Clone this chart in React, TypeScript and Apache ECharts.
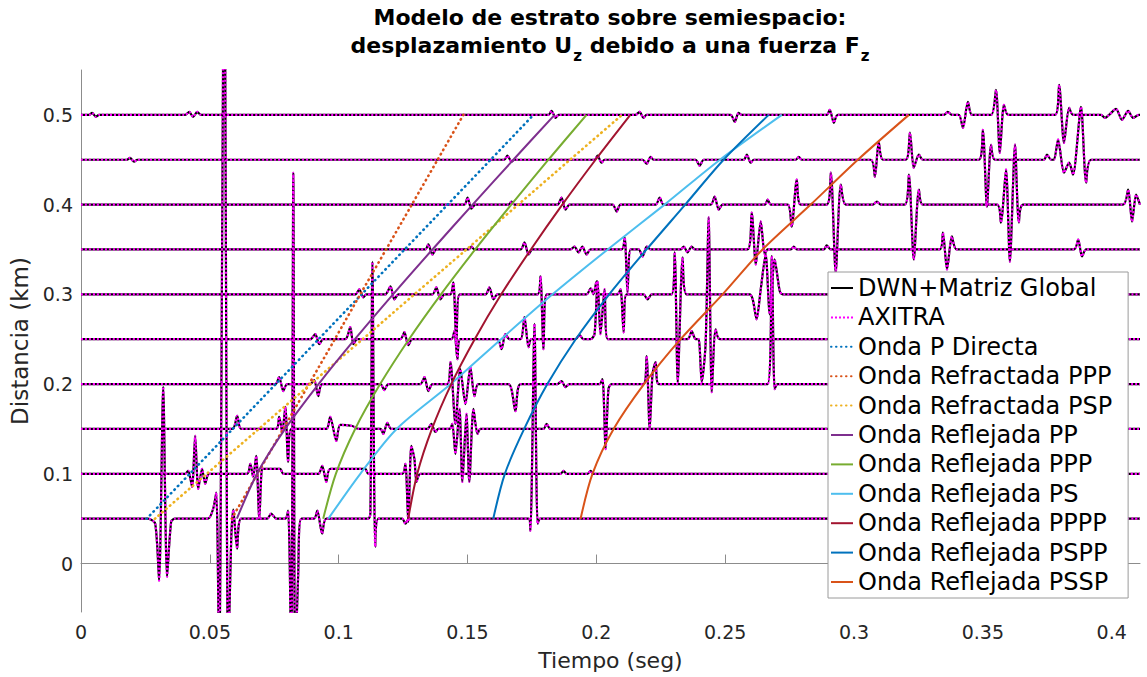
import React, { useEffect, useRef } from "react";
import * as echarts from "echarts";

const X_MIN = 0;
const X_MAX = 0.411;
const Y_MIN = -0.054;
const Y_MAX = 0.55;
const X_TICKS = [0, 0.05, 0.1, 0.15, 0.2, 0.25, 0.3, 0.35, 0.4];
const Y_TICKS = [0, 0.1, 0.2, 0.3, 0.4, 0.5];

// receiver distances (km)
const DIST = [0.05, 0.1, 0.15, 0.2, 0.25, 0.3, 0.35, 0.4, 0.45, 0.5];

// seismogram key points: [time (ms), amplitude offset (m on the distance axis)]
const TRACE_050 = [[26.0,0],[28.8,-5.6],[30.3,-69.0],[31.9,147.0],[33.4,-64.6],[35.0,-3.3],[36.5,0],
[49.3,0],[51.3,11.1],[52.5,29.0],[53.6,-167],[55.6,668],[57.1,-167],[58.3,-22.3],[59.1,10.0],[60.6,-33.4],[62.2,0],
[72.3,0],[73.8,5.6],[75.8,0],
[79.3,0],[80.4,8.9],[81.6,-167],[82.4,385.3],[83.1,-167],[84.3,-61.2],[85.5,0],
[90.5,0],[91.7,8.9],[93.6,-16.7],[95.2,0],
[111.5,0],[112.3,5.6],[113.1,286.2],[114.2,-31.2],[115.4,0],
[124.7,0],[125.9,-5.6],[127.4,0],
[173.7,0],[174.4,-13.4],[176.0,217.2],[177.2,-5.6],[178.3,0]];

const TRACE_100 = [[40.4,0],[41.6,3.3],[43.1,-14.5],[44.3,42.3],[45.5,-16.7],[47.0,5.6],[48.2,-11.1],[49.7,0],
[64.5,0],[65.7,11.1],[66.8,-3.3],[68.0,20.0],[69.2,-50.1],[70.3,5.6],[71.5,5.6],[77.3,5.6],[78.5,0],
[92.1,0],[93.6,8.9],[95.2,-8.9],[96.7,5.6],[110.3,5.6],[111.5,0],
[124.7,0],[125.9,11.1],[127.0,-53.5],[128.2,31.2],[129.4,16.7],[130.2,-8.9],[131.7,0],
[186.1,0],[187.3,3.3],[188.4,0],
[196.6,0],[197.8,3.3],[198.9,0]];

const TRACE_150 = [[58.7,0],[60.6,14.5],[62.2,0],
[75.8,0],[76.9,13.4],[78.1,-3.3],[79.3,24.5],[80.4,-36.7],[81.6,0],
[95.2,0],[96.7,13.4],[99.1,-13.4],[100.6,4.5],[105.3,3.3],[107.6,0],
[116.2,0],[117.3,-5.6],[118.9,6.7],[120.4,0],
[134.4,0],[136.0,5.6],[137.5,-3.3],[138.7,0],
[143.0,0],[144.1,5.6],[145.3,-27.8],[146.9,22.3],[148.0,-59.0],[149.6,16.7],[150.7,-59.0],[152.3,22.3],[153.9,-5.6],[155.0,0],
[179.5,0],[180.7,5.6],[182.2,0]];

const TRACE_200 = [[75.4,0],[76.9,7.8],[78.5,-7.8],[80.0,0],
[89.0,0],[90.5,4.5],[92.1,-13.4],[93.6,0],
[116.2,0],[117.7,-6.7],[119.3,0],
[131.7,0],[133.3,7.8],[134.8,-7.8],[136.4,0],
[142.2,0],[143.4,24.5],[145.3,-44.5],[147.2,16.7],[149.2,-22.3],[151.1,18.9],[152.7,-13.4],[154.2,0],
[165.9,0],[168.6,-30.1],[170.6,0],
[184.9,0],[186.5,3.3],[188.0,-3.3],[189.6,0],
[201.2,0],[202.4,5.6],[203.6,-72.4],[204.7,-5.6],[205.9,0],
[218.3,0],[219.5,31.2],[220.7,-50.1],[221.8,11.1],[223.0,24.5],[224.2,0],
[266.5,0],[268.1,142.5],[269.2,-5.6],[270.4,0]];

const TRACE_250 = [[89.0,0],[90.9,5.6],[92.5,-5.6],[94.0,0],
[102.6,0],[104.5,13.4],[105.7,-5.6],[107.2,0],
[123.9,0],[125.5,7.8],[127.0,-6.7],[128.6,0],
[143.7,0],[144.9,8.9],[146.1,-22.3],[147.2,0],
[161.6,0],[163.2,-11.1],[164.7,5.6],[166.3,0],
[170.6,0],[172.1,24.5],[173.7,-8.9],[174.8,0],
[191.9,0],[193.5,4.5],[195.0,0],
[197.8,0],[199.3,5.6],[200.5,64.6],[201.6,5.6],[203.2,55.7],[204.4,0],
[235.4,0],[237.0,8.9],[238.5,0],
[239.7,0],[240.9,-47.9],[242.4,-5.6],[243.6,135.9],[244.8,-59.0],[246.3,11.1],[247.9,0]];

const TRACE_300 = [[106.5,0],[108.0,5.6],[109.6,-3.3],[110.7,0],
[118.1,0],[120.1,8.9],[121.6,-5.6],[123.2,0],
[136.4,0],[137.9,7.8],[139.5,-5.6],[141.0,0],
[143.4,0],[144.5,13.4],[145.7,-55.7],[146.9,0],
[157.0,0],[158.5,7.8],[160.1,-5.6],[161.6,0],
[177.2,0],[178.3,20.0],[179.5,-61.2],[180.7,0],
[196.2,0],[197.8,6.7],[198.9,0],[200.1,14.5],[201.2,0],
[208.2,0],[209.4,5.6],[210.6,-42.3],[211.7,0],
[218.3,0],[219.9,-5.6],[221.5,0],
[229.2,0],[230.4,46.8],[231.6,-98.0],[233.5,41.2],[235.0,0],
[259.5,0],[260.7,-5.6],[262.2,-27.8],[263.8,5.6],[265.7,44.5],[267.3,-22.3],[269.2,39.0],[271.2,3.3],[272.3,0]];

const TRACE_350 = [[133.6,0],[134.8,5.6],[136.4,-5.6],[137.9,0],
[150.4,0],[151.5,3.3],[152.7,0],
[170.6,0],[172.1,7.8],[173.7,-5.6],[175.2,0],
[190.0,0],[191.5,3.3],[193.1,-3.3],[194.6,3.3],[196.2,-5.6],[197.8,0],
[209.8,0],[211.0,13.4],[212.1,-47.9],[213.3,0],
[216.4,0],[218.0,-7.8],[219.5,3.3],[221.1,0],
[232.7,0],[233.9,3.3],[235.4,-3.3],[237.0,3.3],[238.2,0],
[258.7,0],[260.3,41.2],[261.9,-16.7],[263.8,31.2],[265.4,-5.6],[266.5,0],
[275.5,0],[276.6,3.3],[277.8,0],
[288.3,0],[289.4,4.5],[291.0,0],
[333.3,0],[334.5,18.9],[336.1,-22.3],[338.0,14.5],[339.9,0],
[385.4,0],[387.0,11.1],[388.5,-7.8],[390.1,0]];

const TRACE_400 = [[148.8,0],[150.0,7.8],[151.5,-4.5],[153.1,0],
[165.9,0],[167.1,3.3],[168.2,0],
[184.9,0],[186.5,7.8],[188.0,-5.6],[189.6,0],
[206.3,0],[207.9,-7.8],[209.4,0],
[223.0,0],[224.6,7.8],[226.1,0],
[244.4,0],[245.9,8.9],[247.5,-5.6],[249.0,0],
[265.4,0],[266.5,5.6],[267.7,0],
[274.3,0],[275.8,-24.5],[277.8,27.8],[279.3,0],
[289.4,0],[291.0,35.6],[292.9,-75.7],[294.9,22.3],[296.8,0],
[307.3,0],[308.9,3.3],[310.4,0],
[319.7,0],[321.3,33.4],[323.2,-61.2],[325.2,16.7],[326.7,0],
[355.5,0],[357.0,-20.0],[359.0,39.0],[360.5,-63.5],[362.5,66.8],[364.0,-20.0],[365.6,0],
[404.4,0],[406.4,16.7],[407.9,-18.9],[409.5,11.1],[411.0,0]];

const TRACE_450 = [[17.9,0],[19.0,2.2],[20.6,-2.2],[21.8,0],
[164.3,0],[165.5,4.5],[167.1,-2.2],[168.2,0],
[199.3,0],[200.5,4.5],[202.0,-3.3],[203.2,0],
[218.0,0],[219.5,-4.5],[221.1,3.3],[222.2,0],
[238.5,0],[240.1,-6.7],[241.7,0],
[257.2,0],[258.4,5.6],[259.9,-3.3],[261.1,0],
[277.4,0],[278.6,3.3],[279.7,0],
[306.5,0],[308.1,-18.9],[309.6,20.0],[311.2,0],
[320.1,0],[321.7,30.1],[323.2,-8.9],[325.2,5.6],[326.7,0],
[348.5,0],[350.0,33.4],[351.6,-52.3],[353.2,16.7],[354.7,0],
[373.7,0],[374.9,5.6],[376.5,0],
[377.6,0],[379.2,22.3],[381.5,-14.5],[383.5,-3.3],[385.0,-16.7],[388.1,59.0],[390.1,-25.6],[392.0,0]];

const TRACE_500 = [[3.1,0],[4.3,2.2],[5.8,-2.2],[7.0,0],
[40.4,0],[42.0,3.3],[43.5,-2.2],[45.1,3.3],[46.6,0],
[181.4,0],[182.6,4.5],[184.2,-3.3],[185.3,0],
[215.2,0],[216.8,3.3],[218.3,-3.3],[219.5,0],
[252.1,0],[253.7,-7.8],[255.2,2.2],[256.4,0],
[289.4,0],[290.6,5.6],[292.2,-8.9],[293.7,0],
[334.9,0],[336.4,3.3],[338.0,0],
[340.7,0],[342.3,-14.5],[344.2,14.5],[345.8,0],
[353.2,0],[355.1,27.8],[356.6,-42.3],[358.2,11.1],[359.8,0],
[378.0,0],[379.6,33.4],[381.5,-31.2],[383.5,7.8],[385.0,0],
[395.9,0],[397.4,-3.3],[399.0,0],[401.7,6.7],[404.0,-5.6],[406.4,4.5],[408.3,-3.3],[410.6,0]];

const TRACES = [TRACE_050, TRACE_100, TRACE_150, TRACE_200, TRACE_250, TRACE_300, TRACE_350, TRACE_400, TRACE_450, TRACE_500];

// travel times (s) at each distance in DIST
const T_P_DIRECTA = [0.0255, 0.0422, 0.0589, 0.0756, 0.0922, 0.1089, 0.1256, 0.1423, 0.1590, 0.1756];
const T_REFR_PPP = [0.0585, 0.0685, 0.0785, 0.0885, 0.0985, 0.1084, 0.1184, 0.1284, 0.1384, 0.1484];
const T_REFR_PSP = [0.0287, 0.0488, 0.0690, 0.0891, 0.1093, 0.1294, 0.1496, 0.1697, 0.1898, 0.2100];
const T_REFL_PP = [0.0605, 0.0683, 0.0792, 0.0922, 0.1063, 0.1211, 0.1364, 0.1520, 0.1678, 0.1838];
const T_REFL_PPP = [0.0940, 0.0989, 0.1064, 0.1161, 0.1273, 0.1397, 0.1530, 0.1670, 0.1814, 0.1962];
const T_REFL_PS = [0.0960, 0.1084, 0.1225, 0.1435, 0.1630, 0.1830, 0.2044, 0.2265, 0.2480, 0.2720];
const T_REFL_PPPP = [0.1270, 0.1305, 0.1362, 0.1437, 0.1528, 0.1631, 0.1746, 0.1868, 0.1997, 0.2132];
const T_REFL_PSPP = [0.1600, 0.1645, 0.1720, 0.1810, 0.1920, 0.2050, 0.2195, 0.2345, 0.2494, 0.2669];
const T_REFL_PSSP = [0.1939, 0.1985, 0.2067, 0.2185, 0.2327, 0.2490, 0.2645, 0.2832, 0.3015, 0.3213];

const NAME_DWN = "DWN+Matriz Global";
const NAME_AXITRA = "AXITRA";

const CURVES = [
  { name: "Onda P Directa", times: T_P_DIRECTA, color: "#0072BD", dotted: true },
  { name: "Onda Refractada PPP", times: T_REFR_PPP, color: "#D95319", dotted: true },
  { name: "Onda Refractada PSP", times: T_REFR_PSP, color: "#EDB120", dotted: true },
  { name: "Onda Reflejada PP", times: T_REFL_PP, color: "#7E2F8E", dotted: false },
  { name: "Onda Reflejada PPP", times: T_REFL_PPP, color: "#77AC30", dotted: false },
  { name: "Onda Reflejada PS", times: T_REFL_PS, color: "#4DBEEE", dotted: false },
  { name: "Onda Reflejada PPPP", times: T_REFL_PPPP, color: "#A2142F", dotted: false },
  { name: "Onda Reflejada PSPP", times: T_REFL_PSPP, color: "#0072BD", dotted: false },
  { name: "Onda Reflejada PSSP", times: T_REFL_PSSP, color: "#D95319", dotted: false },
];

const FONT = "DejaVu Sans";

function traceData(d: number, events: number[][]) {
  const pts: number[][] = [[X_MIN, d]];
  for (const [ms, m] of events) pts.push([ms / 1000, d + m / 1000]);
  pts.push([X_MAX, d]);
  return pts;
}

function fmt(v: number) {
  return String(parseFloat(Number(v).toFixed(2)));
}

function buildOption() {
  const series: any[] = [];
  TRACES.forEach((ev, i) => {
    series.push({
      type: "line",
      name: NAME_DWN,
      data: traceData(DIST[i], ev),
      symbol: "none",
      smooth: 0.25,
      silent: true,
      itemStyle: { color: "#000000" },
      lineStyle: { color: "#000000", width: 2.2 },
      z: 2,
    });
  });
  TRACES.forEach((ev, i) => {
    series.push({
      type: "line",
      name: NAME_AXITRA,
      data: traceData(DIST[i], ev),
      symbol: "none",
      smooth: 0.25,
      silent: true,
      itemStyle: { color: "#ff00ff" },
      lineStyle: { color: "#ff00ff", width: 2.2, type: [2, 2] },
      z: 3,
    });
  });
  CURVES.forEach((c) => {
    series.push({
      type: "line",
      name: c.name,
      data: c.times.map((t, i) => [t, DIST[i]]),
      symbol: "none",
      smooth: 0.3,
      silent: true,
      itemStyle: { color: c.color },
      lineStyle: c.dotted
        ? { color: c.color, width: 2.6, type: [0.5, 4.5], cap: "round" }
        : { color: c.color, width: 2 },
      z: 4,
    });
  });

  return {
    animation: false,
    backgroundColor: "#ffffff",
    textStyle: { fontFamily: FONT },
    graphic: [
      {
        type: "text",
        x: 610,
        y: 17,
        style: {
          text: "Modelo de estrato sobre semiespacio:",
          fontFamily: FONT,
          fontSize: 22,
          fontWeight: "bold",
          fill: "#000",
          align: "center",
          verticalAlign: "middle",
        },
      },
      {
        type: "text",
        x: 610,
        y: 45,
        style: {
          text: "desplazamiento U{s|z} debido a una fuerza F{s|z}",
          fontFamily: FONT,
          fontSize: 22,
          fontWeight: "bold",
          fill: "#000",
          align: "center",
          verticalAlign: "middle",
          rich: {
            s: { fontFamily: FONT, fontSize: 15, fontWeight: "bold", fill: "#000", padding: [22, 0, 0, 1] },
          },
        },
      },
    ],
    legend: {
      orient: "vertical",
      left: 828,
      top: 272,
      itemWidth: 22,
      itemHeight: 14,
      itemGap: 5.4,
      padding: [4, 16, 4, 2],
      borderColor: "#9a9a9a",
      borderWidth: 1,
      backgroundColor: "#ffffff",
      selectedMode: false,
      itemStyle: { opacity: 0 },
      textStyle: { fontFamily: FONT, fontSize: 24, color: "#000", lineHeight: 24 },
      data: [NAME_DWN, NAME_AXITRA, ...CURVES.map((c) => c.name)],
      z: 10,
    },
    grid: { left: 81, right: 7, top: 70, bottom: 65, containLabel: false, outerBoundsMode: "none" },
    xAxis: {
      type: "value",
      min: X_MIN,
      max: X_MAX,
      name: "Tiempo (seg)",
      nameLocation: "middle",
      nameGap: 37,
      nameTextStyle: { fontFamily: FONT, fontSize: 22, color: "#262626" },
      axisLine: { show: true, lineStyle: { color: "#8c8c8c", width: 1 } },
      axisTick: { show: true, inside: true, length: 9, customValues: X_TICKS, lineStyle: { color: "#8c8c8c" } },
      axisLabel: { customValues: X_TICKS, formatter: (v: number) => fmt(v), fontFamily: FONT, fontSize: 19, color: "#262626", margin: 10 },
      splitLine: { show: false },
    },
    yAxis: {
      type: "value",
      min: Y_MIN,
      max: Y_MAX,
      name: "Distancia (km)",
      nameLocation: "middle",
      nameGap: 44,
      nameTextStyle: { fontFamily: FONT, fontSize: 23, color: "#262626" },
      axisLine: { show: true, lineStyle: { color: "#8c8c8c", width: 1 } },
      axisTick: { show: true, inside: true, length: 9, customValues: Y_TICKS, lineStyle: { color: "#8c8c8c" } },
      axisLabel: { customValues: Y_TICKS, formatter: (v: number) => fmt(v), fontFamily: FONT, fontSize: 19, color: "#262626", margin: 8 },
      splitLine: { show: false },
    },
    series,
  };
}

export default function App() {
  const ref = useRef<HTMLDivElement>(null);
  useEffect(() => {
    const chart = echarts.init(ref.current as HTMLDivElement, null, { renderer: "svg" });
    chart.setOption(buildOption() as any);
    return () => chart.dispose();
  }, []);
  return (
    <div
      ref={ref}
      style={{ position: "fixed", left: 0, top: 0, width: 1147, height: 677, background: "#ffffff" }}
    />
  );
}
